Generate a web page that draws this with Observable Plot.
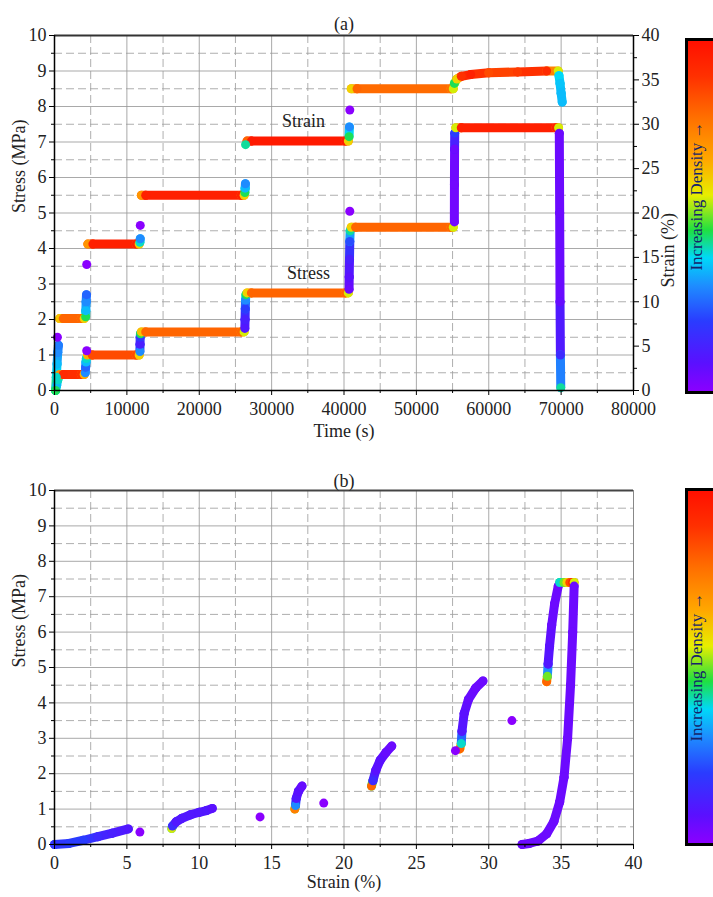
<!DOCTYPE html>
<html><head><meta charset="utf-8">
<script src="https://cdn.jsdelivr.net/npm/d3@7"></script>
<script src="https://cdn.jsdelivr.net/npm/@observablehq/plot@0.6"></script>
<style>
html,body{margin:0;padding:0;background:#fff;}
#root{position:relative;width:713px;height:897px;overflow:hidden;font-family:"Liberation Serif","Times New Roman",serif;}
.panel{position:absolute;left:0;}
.cbar{position:absolute;left:685px;width:40px;border:3px solid #000;box-sizing:border-box;}
.cbar-label{position:absolute;white-space:nowrap;font-family:"Liberation Serif","Times New Roman",serif;font-size:17px;color:#15246a;transform:translate(-50%,-50%) rotate(-90deg);}
</style>
</head><body><div id="root"></div>
<script>
// ---------- colour (density) scale ----------
const densityStops = [0, 0.08, 0.2, 0.3, 0.38, 0.46, 0.56, 0.66, 0.78, 0.9, 1];
const colorStops = ["#8a00ff","#5a10ff","#2a3cff","#1e8cff","#00d8f8","#20e040","#e8ee00","#ffa800","#ff7000","#ff3000","#ff1000"];

// ---------- panel (a): stress vs time ----------
const stressSeg  = [0,0,0,0, 1,1,1,1, 2,2,2,2, 3,3,3,3, 4,4,4,4, 5,5,5,5, 6,6,6,6,6, 7,7,7,7, 8,8,8,8,8, 9,9,9,9, 10,10,10,10, 11,11,11,11, 12,12,12,12,12];
const stressTime = [150,300,450,600, 700,1200,3700,4100, 4250,4300,4350,4400, 4550,5200,11300,11700, 11800,11820,11840,11880, 12000,12600,25800,26200, 26300,26330,26360,26400,26450, 26600,27200,40200,40600, 40700,40720,40760,40800,40850, 41000,41600,54800,55100, 55250,55260,55280,55300, 55450,56200,69300,69650, 69750,69800,69850,69900,69950];
const stressMPa  = [0,0.15,0.3,0.42, 0.45,0.45,0.45,0.45, 0.5,0.65,0.8,0.9, 1.0,1.0,1.0,1.0, 1.1,1.3,1.5,1.6, 1.65,1.65,1.65,1.65, 1.75,2.0,2.3,2.55,2.7, 2.75,2.75,2.75,2.75, 2.85,3.2,3.7,4.2,4.5, 4.6,4.6,4.6,4.6, 4.75,5.8,6.8,7.25, 7.4,7.4,7.4,7.4, 7.25,5.0,2.5,1.0,0.08];
const stressDensity = [0.4,0.35,0.4,0.5, 0.7,0.92,0.9,0.65, 0.3,0.25,0.35,0.4, 0.65,0.85,0.85,0.6, 0.3,0.12,0.18,0.45, 0.62,0.8,0.8,0.55, 0.1,0.12,0.2,0.3,0.45, 0.6,0.8,0.8,0.55, 0.05,0.08,0.12,0.22,0.42, 0.6,0.8,0.8,0.55, 0.04,0.04,0.05,0.2, 0.55,0.95,0.95,0.55, 0.05,0.05,0.06,0.15,0.42];

// ---------- panel (a): strain vs time (%) ----------
const strainSeg  = [0,0,0,0,0, 1,1,1,1, 2,2,2,2, 3,3,3,3, 4,4, 5,5,5,5, 6,6,6, 7,7,7,7, 8,8, 9,9,9,9, 10,10,10,10,10,10,10,10, 11,11,11,11];
const strainTime = [150,250,350,450,550, 700,1200,3700,4100, 4300,4330,4370,4420, 4600,5300,11300,11700, 11800,11850, 12000,12600,25800,26200, 26300,26340,26380, 26600,27200,40200,40600, 40700,40750, 41000,41800,54800,55100, 55250,55600,56200,57500,60000,64000,68000,69600, 69700,69850,70000,70150];
const strainPct  = [0,1.5,3,4.3,5.1, 8.1,8.1,8.1,8.1, 8.3,9.0,10.0,10.8, 16.5,16.5,16.5,16.5, 16.7,17.1, 22,22,22,22, 22.3,22.8,23.3, 28.1,28.1,28.1,28.1, 28.6,29.7, 34,34,34,34, 34.6,35.1,35.4,35.6,35.8,35.9,36.0,36.0, 35.5,34.6,33.5,32.5];
const strainDensity = [0.45,0.4,0.35,0.3,0.28, 0.62,0.8,0.8,0.6, 0.45,0.35,0.3,0.25, 0.7,0.95,0.95,0.6, 0.4,0.3, 0.7,0.95,0.95,0.6, 0.45,0.35,0.3, 0.8,0.97,0.97,0.6, 0.45,0.3, 0.6,0.8,0.78,0.55, 0.45,0.6,0.9,0.95,0.85,0.88,0.92,0.55, 0.38,0.36,0.35,0.35];

// isolated points in (a)
const strainOutTime = [400, 4450, 11850, 40800, 26400];
const strainOutPct  = [6.0, 14.2, 18.6, 31.6, 27.7];
const strainOutDensity = [0, 0, 0, 0, 0.42];
const stressOutTime = [4450, 40800];
const stressOutMPa  = [1.12, 5.05];
const stressOutDensity = [0, 0];

// ---------- panel (b): stress vs strain ----------
const bSeg    = [0,0,0,0,0,0, 1,1,1,1,1,1,1,1, 2,2,2,2,2, 3,3,3,3,3,3, 4,4,4,4,4,4,4, 5,5,5,5,5,5,5, 6,6,6,6,6,6, 7,7,7,7,7,7,7,7,7,7,7];
const bStrain = [0,1,2,3,4,5.1, 8.1,8.15,8.4,8.8,9.4,10.0,10.5,10.9, 16.6,16.65,16.7,16.85,17.1, 21.9,22.0,22.2,22.5,22.9,23.3, 28.0,28.1,28.15,28.3,28.6,29.1,29.6, 34.0,34.05,34.1,34.2,34.35,34.55,34.8, 34.9,35.2,35.4,35.6,35.8,35.9, 35.9,35.8,35.65,35.45,35.2,34.9,34.5,34.0,33.4,32.8,32.3];
const bStress = [0.0,0.03,0.12,0.22,0.32,0.44, 0.45,0.52,0.64,0.74,0.84,0.91,0.96,1.02, 1.0,1.1,1.3,1.5,1.65, 1.65,1.8,2.1,2.38,2.6,2.78, 2.7,2.85,3.2,3.7,4.1,4.42,4.62, 4.6,4.75,5.1,5.6,6.2,6.8,7.3, 7.4,7.4,7.4,7.4,7.4,7.4, 7.3,6.0,4.5,3.0,1.9,1.2,0.65,0.3,0.1,0.03,0.0];
const bDensity = [0.18,0.2,0.2,0.15,0.12,0.1, 0.55,0.15,0.1,0.1,0.1,0.1,0.1,0.08, 0.75,0.3,0.1,0.08,0.06, 0.8,0.15,0.08,0.08,0.06,0.05, 0.8,0.4,0.1,0.08,0.06,0.05,0.05, 0.8,0.5,0.1,0.08,0.06,0.05,0.05, 0.4,0.5,0.6,0.85,0.95,0.55, 0.05,0.05,0.05,0.05,0.05,0.05,0.05,0.05,0.05,0.05,0.05];
const bOutStrain = [5.9, 14.2, 18.6, 27.7, 31.6];
const bOutStress = [0.35, 0.78, 1.17, 2.65, 3.5];
const bOutDensity = [0, 0, 0, 0, 0];

// ---------- ticks ----------
const stressTicks = [0,1,2,3,4,5,6,7,8,9,10];
const stressMinor = [0.5,1.5,2.5,3.5,4.5,5.5,6.5,7.5,8.5,9.5];
const timeTicks = [0,10000,20000,30000,40000,50000,60000,70000,80000];
const timeMinor = [5000,15000,25000,35000,45000,55000,65000,75000];
const strainTicks = [0,5,10,15,20,25,30,35,40];
const strainMinor = [2.5,7.5,12.5,17.5,22.5,27.5,32.5,37.5];

// ---------- helpers ----------
function links(seg, xs, ys, ds) {
  const out = [];
  for (let i = 1; i < xs.length; i++) {
    if (seg[i] !== seg[i-1]) continue;
    out.push({x1: xs[i-1], y1: ys[i-1], x2: xs[i], y2: ys[i], d: (ds[i-1] + ds[i]) / 2});
  }
  return out;
}
function pts(xs, ys, ds) { return xs.map((x, i) => ({x, y: ys[i], d: ds[i]})); }

const font = '"Liberation Serif","Times New Roman",serif';
const FS = 18;
const style = {fontFamily: font, fontSize: FS + "px", background: "transparent", color: "#222", overflow: "visible"};
const txt = {fontFamily: font, fontSize: FS, fill: "#222"};
const ax = {label: null, stroke: "#000", fontFamily: font, fontSize: FS, fill: "#222"};
const gridSolid = {stroke: "#9a9a9a", strokeOpacity: 0.85, strokeWidth: 1};
const gridDash = {stroke: "#a0a0a0", strokeOpacity: 0.85, strokeWidth: 1, strokeDasharray: "8,4"};
const colorScale = {type: "linear", domain: densityStops, range: colorStops};
const SW = 9, R = 4.5;

const toEq = v => v / 4; // strain (%) -> left-axis units (0–40 % ↔ 0–10 MPa)

const linksA = links(stressSeg, stressTime, stressMPa, stressDensity)
  .concat(links(strainSeg, strainTime, strainPct.map(toEq), strainDensity));
const keyA = pts(stressTime, stressMPa, stressDensity)
  .concat(pts(strainTime, strainPct.map(toEq), strainDensity));
const dotsA = pts(strainOutTime, strainOutPct.map(toEq), strainOutDensity)
  .concat(pts(stressOutTime, stressOutMPa, stressOutDensity));

const plotA = Plot.plot({
  width: 713, height: 450, marginLeft: 54, marginRight: 80, marginTop: 35, marginBottom: 60,
  style,
  x: {domain: [0, 80000], label: null},
  y: {domain: [0, 10], label: null},
  color: colorScale,
  marks: [
    Plot.gridY(stressMinor, gridDash),
    Plot.gridX(timeMinor, gridDash),
    Plot.gridY(stressTicks, gridSolid),
    Plot.gridX(timeTicks, gridSolid),
    Plot.link(linksA, {x1: "x1", y1: "y1", x2: "x2", y2: "y2", stroke: "d", strokeWidth: SW, strokeLinecap: "round"}),
    Plot.dot(keyA, {x: "x", y: "y", fill: "d", r: R}),
    Plot.dot(dotsA, {x: "x", y: "y", fill: "d", r: R}),
    Plot.axisY(stressTicks, {...ax, tickSize: 5, tickPadding: 3}),
    Plot.axisY(stressMinor, {...ax, tickSize: 3, tickFormat: () => ""}),
    Plot.axisY(strainTicks.map(toEq), {...ax, anchor: "right", tickSize: 5, tickPadding: 3, tickFormat: d => String(Math.round(d * 4))}),
    Plot.axisY(strainMinor.map(toEq), {...ax, anchor: "right", tickSize: 3, tickFormat: () => ""}),
    Plot.axisX(timeTicks, {...ax, tickSize: 5, tickPadding: 7, tickFormat: d3.format("d")}),
    Plot.axisX(timeMinor, {...ax, tickSize: 3, tickFormat: () => ""}),
    Plot.ruleY([0], {stroke: "#000", strokeWidth: 1.5}),
    Plot.ruleY([10], {stroke: "#333", strokeWidth: 2}),
    Plot.ruleX([0], {stroke: "#000", strokeWidth: 1.5}),
    Plot.ruleX([80000], {stroke: "#000", strokeWidth: 1.5}),
    Plot.text(["(a)"], {...txt, frameAnchor: "top", dy: -18, text: d => d}),
    Plot.text(["Stress (MPa)"], {...txt, frameAnchor: "left", dx: -35, rotate: -90, text: d => d}),
    Plot.text(["Strain (%)"], {...txt, frameAnchor: "right", dx: 35, rotate: -90, text: d => d}),
    Plot.text(["Time (s)"], {...txt, frameAnchor: "bottom", dy: 46, text: d => d}),
    Plot.text(["Strain"], {...txt, x: 34400, y: 7.58, text: d => d}),
    Plot.text(["Stress"], {...txt, x: 35100, y: 3.3, text: d => d})
  ]
});

const linksB = links(bSeg, bStrain, bStress, bDensity);
const keyB = pts(bStrain, bStress, bDensity);
const dotsB = pts(bOutStrain, bOutStress, bOutDensity);

const plotB = Plot.plot({
  width: 713, height: 447, marginLeft: 54, marginRight: 80, marginTop: 40, marginBottom: 53,
  style,
  x: {domain: [0, 40], label: null},
  y: {domain: [0, 10], label: null},
  color: colorScale,
  marks: [
    Plot.gridY(stressMinor, gridDash),
    Plot.gridX(strainMinor, gridDash),
    Plot.gridY(stressTicks, gridSolid),
    Plot.gridX(strainTicks, gridSolid),
    Plot.link(linksB, {x1: "x1", y1: "y1", x2: "x2", y2: "y2", stroke: "d", strokeWidth: SW, strokeLinecap: "round"}),
    Plot.dot(keyB, {x: "x", y: "y", fill: "d", r: R}),
    Plot.dot(dotsB, {x: "x", y: "y", fill: "d", r: R}),
    Plot.axisY(stressTicks, {...ax, tickSize: 5, tickPadding: 3}),
    Plot.axisY(stressMinor, {...ax, tickSize: 3, tickFormat: () => ""}),
    Plot.axisX(strainTicks, {...ax, tickSize: 5, tickPadding: 7}),
    Plot.axisX(strainMinor, {...ax, tickSize: 3, tickFormat: () => ""}),
    Plot.ruleY([0], {stroke: "#000", strokeWidth: 1.5}),
    Plot.ruleY([10], {stroke: "#444", strokeWidth: 2}),
    Plot.ruleX([0], {stroke: "#000", strokeWidth: 1.5}),
    Plot.ruleX([40], {stroke: "#888", strokeWidth: 1}),
    Plot.text(["(b)"], {...txt, frameAnchor: "top", dy: -16, text: d => d}),
    Plot.text(["Stress (MPa)"], {...txt, frameAnchor: "left", dx: -35, rotate: -90, text: d => d}),
    Plot.text(["Strain (%)"], {...txt, frameAnchor: "bottom", dy: 43, text: d => d})
  ]
});

const root = document.getElementById("root");
function place(el, top) { el.classList.add("panel"); el.style.top = top + "px"; root.appendChild(el); }
place(plotA, 0);
place(plotB, 450);

// colour bars (legend) built from the same colour stops
const grad = "linear-gradient(to top," + colorStops.map((c, i) => c + " " + (densityStops[i] * 100) + "%").join(",") + ")";
function colorbar(top, height, labelCenterY) {
  const bar = document.createElement("div");
  bar.className = "cbar";
  bar.style.top = top + "px";
  bar.style.height = height + "px";
  bar.style.background = grad;
  root.appendChild(bar);
  const lab = document.createElement("div");
  lab.className = "cbar-label";
  lab.textContent = "Increasing Density \u2192";
  lab.style.left = "697px";
  lab.style.top = labelCenterY + "px";
  root.appendChild(lab);
}
colorbar(38, 356, 196);
colorbar(488, 358, 667);
</script></body></html>
